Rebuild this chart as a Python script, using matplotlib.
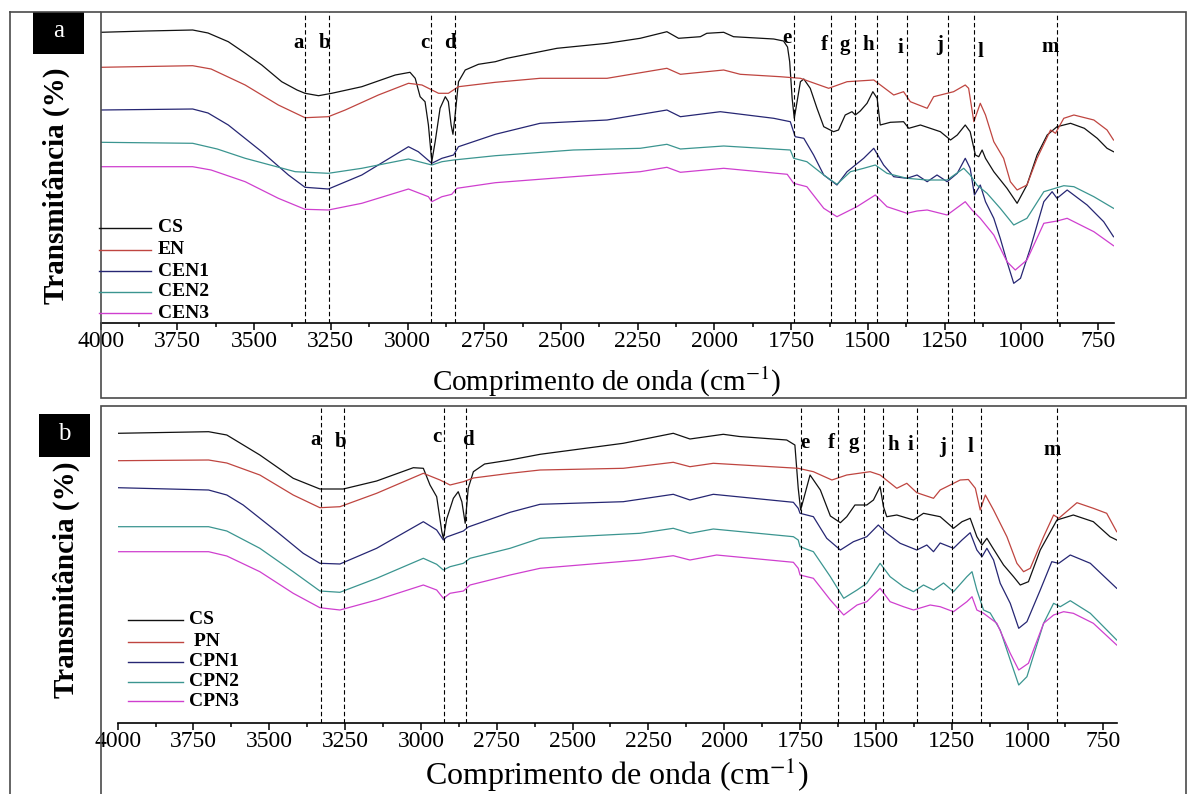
import matplotlib
matplotlib.use('Agg')
import matplotlib.pyplot as plt
from matplotlib.lines import Line2D
from matplotlib.patches import Rectangle
from matplotlib.ticker import MultipleLocator

W, H = 1191, 794

# ---- data: (wavenumber cm-1, transmittance, arbitrary offset units) ----
a_cs = [(4000, 290.7), (3850, 292), (3700, 293), (3650, 290), (3584, 281.3), (3530, 270), (3475, 258),
        (3410, 241.3), (3360, 233), (3334, 229.7), (3290, 227.3), (3247, 229.7), (3149, 236.3), (3040, 248),
        (2992, 250.7), (2975, 244.7), (2959, 226.3),
        (2943, 221.3), (2932, 198), (2921, 161.3), (2910, 181.3), (2894, 214.7), (2877, 226.3), (2867, 221.3),
        (2858, 198), (2852, 188.7), (2845, 208), (2834, 241.3), (2812, 253), (2769, 258.7), (2714, 261.3),
        (2676, 264.7), (2513, 274.7), (2350, 279.7), (2242, 284.7), (2155, 291.3), (2117, 284.7), (2046, 286.3),
        (2025, 289.7), (1970, 290.7), (1938, 286.3), (1807, 284), (1775, 282), (1762, 276), (1755, 261.3),
        (1747, 224.7), (1740, 204.7), (1720, 241.3), (1709, 244), (1688, 234.7), (1666, 214.7), (1644, 196.3),
        (1612, 191.3), (1596, 193), (1574, 208), (1552, 211.3), (1541, 208), (1525, 212), (1503, 219.7),
        (1484, 231.3), (1470, 224.7), (1460, 198), (1427, 200.7), (1384, 201.3), (1367, 194.7), (1329, 198),
        (1264, 191.3), (1231, 183), (1209, 188), (1183, 198), (1167, 191.3), (1150, 168), (1139, 166.3),
        (1128, 173), (1117, 164.7), (1090, 151.3), (1047, 134.7), (1014, 119.7), (982, 138), (949, 168),
        (916, 188), (884, 196.3), (840, 199.7), (795, 194.7), (753, 184.7), (721, 174.7), (700, 171.3)]
a_en = [(4000, 255.7), (3700, 257.3), (3640, 254), (3529, 238), (3421, 218), (3334, 205.3), (3258, 206.3),
        (3203, 213), (3095, 228), (2997, 239.7), (2953, 238), (2899, 229.7), (2867, 229.7), (2834, 236.3),
        (2714, 240.7), (2568, 244.7), (2350, 244.7), (2155, 254.7), (2111, 248.7), (1970, 253), (1916, 248.7),
        (1786, 246.3), (1720, 244.7), (1628, 234.7), (1568, 241.3), (1481, 243), (1416, 228), (1384, 231.3),
        (1362, 221.3), (1307, 214.7), (1286, 226.3), (1221, 231.3), (1183, 238), (1172, 234.7), (1155, 201.3),
        (1134, 219.7), (1117, 208), (1090, 181.3), (1058, 164.7), (1036, 141.3), (1014, 133), (982, 138),
        (949, 164.7), (905, 193), (889, 189.7), (862, 204.7), (829, 208), (764, 203), (721, 193), (700, 183)]
a_cen1 = [(4000, 213), (3700, 214), (3650, 210), (3584, 198), (3475, 171.3), (3388, 148), (3334, 135.7),
          (3258, 134), (3149, 148), (2997, 176.3), (2965, 171.3), (2921, 159.7), (2888, 164.7), (2850, 168),
          (2834, 176.3), (2714, 188.7), (2568, 199.7), (2350, 203), (2155, 213), (2111, 206.3), (1981, 211.3),
          (1807, 204.7), (1753, 201.3), (1737, 186.3), (1709, 184.7), (1677, 168), (1644, 148), (1601, 138),
          (1568, 151.3), (1514, 164.7), (1481, 174.7), (1449, 158), (1416, 146.3), (1373, 144.7), (1340, 148),
          (1307, 141.3), (1275, 148), (1242, 141.3), (1209, 149.7), (1183, 164.7), (1167, 154.7), (1153, 128),
          (1134, 138), (1117, 121.3), (1090, 104.7), (1069, 84.7), (1047, 61.3), (1025, 39.7), (1003, 44.7),
          (971, 74.7), (927, 121.3), (900, 131.3), (884, 124.7), (851, 133), (786, 118), (732, 101.3), (700, 86.3)]
a_cen2 = [(4000, 180.7), (3700, 179.7), (3620, 174), (3529, 164.7), (3366, 151.3), (3258, 149.7), (3149, 154.7),
          (2997, 164), (2921, 158), (2888, 161.3), (2850, 163), (2714, 167.3), (2460, 173), (2242, 174.7),
          (2155, 178.7), (2111, 174), (1970, 177), (1753, 173), (1742, 164.7), (1699, 161.3), (1644, 148),
          (1601, 138.7), (1557, 151.3), (1514, 154.7), (1476, 158), (1438, 149.7), (1373, 144.7), (1307, 143),
          (1242, 143), (1188, 154.7), (1167, 148), (1145, 138), (1112, 129.7), (1069, 114.7), (1025, 98),
          (982, 104.7), (927, 131.3), (862, 137.3), (829, 136.3), (764, 126.3), (700, 114.7)]
a_cen3 = [(4000, 156.3), (3700, 156.3), (3640, 153), (3529, 141.3), (3421, 124.7), (3334, 113.7), (3258, 113),
          (3149, 119.7), (2997, 134), (2932, 126.3), (2921, 121.3), (2888, 126.3), (2856, 128.7), (2839, 134.7),
          (2714, 140.3), (2460, 146.3), (2242, 151.3), (2155, 155.7), (2111, 150.7), (1970, 154.7), (1763, 148.7),
          (1742, 139.7), (1699, 136.3), (1644, 114.7), (1601, 106.3), (1536, 116.3), (1476, 128), (1438, 116.3),
          (1373, 109.7), (1340, 112), (1307, 113), (1242, 108), (1183, 121.3), (1161, 113), (1134, 104.7),
          (1090, 88), (1047, 61.3), (1020, 53), (982, 63), (927, 99.7), (884, 102), (851, 104.7), (764, 91.3),
          (700, 77.3)]

b_cs = [(4000, 289.7), (3700, 291.3), (3640, 288), (3531, 268), (3421, 244.7), (3333, 234), (3256, 234),
        (3146, 242), (3025, 255.3), (2992, 254.7), (2970, 238), (2948, 226.3), (2931, 191.3), (2926, 184.7),
        (2915, 204), (2893, 224.7), (2877, 231.3), (2865, 221.3), (2854, 199.7), (2844, 234.7), (2827, 251.3),
        (2790, 259), (2706, 263), (2607, 268.7), (2333, 279.7), (2168, 289.7), (2113, 284), (2003, 288.7),
        (1950, 286.5), (1794, 283), (1767, 278), (1756, 234.7), (1748, 213), (1717, 248), (1683, 233),
        (1650, 207), (1617, 200.3), (1596, 206.3), (1569, 218), (1530, 218), (1508, 223), (1486, 236.3),
        (1475, 216.3), (1464, 206.3), (1431, 208), (1376, 203), (1343, 209.7), (1288, 206.3), (1244, 194.7),
        (1216, 201.3), (1189, 204.7), (1167, 186.3), (1150, 178), (1134, 184.7), (1117, 176.3), (1079, 158),
        (1046, 146.3), (1024, 138), (997, 141.3), (958, 173), (903, 203), (849, 208), (783, 201.3),
        (728, 186.3), (706, 183)]
b_pn = [(4000, 262.3), (3700, 263), (3640, 260), (3531, 248), (3421, 228), (3333, 215.3), (3267, 216.3),
        (3146, 229.7), (2992, 249.7), (2937, 243), (2904, 238), (2860, 241.3), (2827, 245), (2706, 249.7),
        (2607, 253), (2333, 254.7), (2168, 260.7), (2113, 256.3), (2036, 259.7), (1756, 254.7), (1706, 251.3),
        (1645, 243), (1596, 248), (1519, 251.3), (1486, 248), (1431, 234.7), (1398, 239.7), (1365, 230.3),
        (1310, 224.7), (1288, 233), (1222, 243), (1195, 243.5), (1172, 234.7), (1156, 213), (1139, 228),
        (1112, 213), (1068, 186.3), (1035, 159.7), (1013, 151.3), (991, 154.7), (947, 186.3), (914, 208),
        (897, 204.7), (837, 220.3), (783, 214.7), (739, 209.7), (706, 191.3)]
b_cpn1 = [(4000, 235.3), (3700, 233), (3640, 228), (3586, 218), (3475, 191.3), (3388, 169.7), (3333, 159.7),
          (3267, 159), (3146, 174.7), (2992, 201.3), (2948, 193), (2926, 183), (2915, 186), (2860, 192),
          (2844, 196), (2706, 210.7), (2607, 218.7), (2333, 221.3), (2168, 228.7), (2113, 223), (2036, 228.7),
          (1772, 220.7), (1756, 214.7), (1750, 209.7), (1706, 206.3), (1662, 184.7), (1617, 173), (1574, 181.3),
          (1530, 186.3), (1492, 198), (1464, 189.7), (1420, 179.7), (1365, 173), (1332, 178), (1310, 171.3),
          (1288, 180), (1244, 174.7), (1216, 183), (1189, 190.3), (1167, 173), (1150, 166.3), (1134, 174.7),
          (1112, 163), (1090, 139.7), (1057, 119.7), (1029, 94.7), (1002, 101.3), (958, 133), (920, 161.3),
          (897, 159.7), (859, 168), (793, 159.7), (706, 134.7)]
b_cpn2 = [(4000, 196.3), (3700, 196.3), (3640, 192), (3531, 174.7), (3421, 151.3), (3333, 132), (3267, 130.7),
          (3146, 144.7), (2992, 164.7), (2948, 158.7), (2926, 153), (2904, 156.3), (2860, 159.7), (2838, 164.7),
          (2706, 174.7), (2607, 184.7), (2278, 189.7), (2168, 194.7), (2113, 189.7), (2036, 194), (1772, 186.3),
          (1756, 183), (1750, 176.3), (1706, 171.3), (1650, 146.3), (1606, 124.7), (1562, 133), (1530, 139.7),
          (1486, 159.7), (1453, 146.3), (1409, 136.3), (1376, 131.3), (1343, 138), (1310, 133), (1277, 140),
          (1244, 131.3), (1200, 146.3), (1183, 151.3), (1167, 133), (1145, 113), (1123, 110), (1090, 93),
          (1057, 63), (1029, 38), (1002, 46.3), (947, 99.7), (914, 119.7), (892, 116.3), (859, 122.3),
          (793, 109.7), (706, 83)]
b_cpn3 = [(4000, 171.3), (3700, 171.3), (3640, 167), (3531, 151.3), (3421, 129.7), (3333, 115.3), (3267, 113),
          (3146, 123), (2992, 138), (2948, 133), (2926, 124.7), (2904, 129.7), (2860, 132), (2838, 138),
          (2706, 148), (2607, 154.7), (2278, 163), (2168, 167.3), (2113, 163), (2025, 168), (1772, 160.7),
          (1756, 154.7), (1750, 148), (1706, 144.7), (1650, 123), (1606, 108), (1562, 118), (1530, 121.3),
          (1486, 134.7), (1453, 121.3), (1409, 116.3), (1376, 113), (1321, 118), (1288, 116.3), (1244, 111.3),
          (1200, 121.3), (1183, 126.3), (1167, 113), (1145, 109.7), (1101, 99.7), (1057, 69.7), (1029, 53),
          (997, 59.7), (947, 99.7), (914, 108), (881, 111.3), (849, 109.7), (783, 99.7), (706, 78)]

names_a = ['CS', 'EN', 'CEN1', 'CEN2', 'CEN3']
names_b = ['CS', ' PN', 'CPN1', 'CPN2', 'CPN3']
colors = ['#111111', '#bf4540', '#262673', '#3b9590', '#cf3fcf']

band_letters = ['a', 'b', 'c', 'd', 'e', 'f', 'g', 'h', 'i', 'j', 'l', 'm']
bands_a = [3334, 3255, 2922, 2847, 1740, 1620, 1542, 1470, 1373, 1240, 1155, 884]
bands_b = [3328, 3252, 2924, 2851, 1747, 1624, 1539, 1477, 1363, 1248, 1153, 902]
# letter positions (layout), in wavenumber / height units of each panel
lab_a = [(3355, 280), (3272, 280), (2945, 280), (2862, 280), (1763, 285), (1641, 278), (1576, 278),
         (1498, 278), (1393, 275), (1265, 278), (1135, 271), (907, 276)]
lab_b = [(3347, 283), (3264, 281), (2948, 286), (2846, 283), (1734, 280), (1646, 280), (1574, 280),
         (1443, 278), (1387, 278), (1279, 276), (1189, 276), (918, 273)]

plt.rcParams['font.family'] = ['Liberation Serif', 'DejaVu Serif']
plt.rcParams['mathtext.fontset'] = 'stix'

fig = plt.figure(figsize=(W / 100, H / 100), dpi=100)


def fr(x, y):
    return x / W, 1 - y / H


def box(x0, y0, x1, y1, **kw):
    fig.add_artist(Rectangle(fr(x0, y1), (x1 - x0) / W, (y1 - y0) / H,
                             transform=fig.transFigure, fill=False, **kw))


def panel(left, right, top, bottom, xmax, ymax, curves, bands, labs):
    x0, y0 = fr(left, bottom)
    ax = fig.add_axes([x0, y0, (right - left) / W, (bottom - top) / H])
    for pts, c in zip(curves, colors):
        ax.plot([p[0] for p in pts], [p[1] for p in pts], color=c, lw=0.9)
    for wn in bands:
        ax.axvline(wn, ymin=0, ymax=1, color='black', lw=0.8, ls=(0, (4, 2.5)))
    for t, (wx, wy) in zip(band_letters, labs):
        ax.text(wx, wy, t, ha='center', va='center', fontsize=15, fontweight='bold')
    ax.set_xlim(4000, xmax)
    ax.set_ylim(0, ymax)
    for s in ['left', 'right', 'top']:
        ax.spines[s].set_visible(False)
    ax.spines['bottom'].set_linewidth(1.2)
    ax.set_yticks([])
    ax.xaxis.set_major_locator(MultipleLocator(250))
    ax.xaxis.set_minor_locator(MultipleLocator(125))
    ax.tick_params(axis='x', which='major', direction='out', length=5, width=1.1,
                   labelsize=17, pad=1)
    ax.tick_params(axis='x', which='minor', direction='out', length=3, width=1.1)
    ax.patch.set_alpha(0)
    return ax


ax_a = panel(100.6, 1113.5, 12, 323, 700, 311, [a_cs, a_en, a_cen1, a_cen2, a_cen3], bands_a, lab_a)
ax_b = panel(117.6, 1117.0, 406, 723, 705, 317, [b_cs, b_pn, b_cpn1, b_cpn2, b_cpn3], bands_b, lab_b)

# frames
edge = '#4a4a4a'
fig.add_artist(Line2D([10 / W, 10 / W], [1 - 12 / H, 0], transform=fig.transFigure, color=edge, lw=1.2))
fig.add_artist(Line2D([10 / W, 100 / W], [1 - 12 / H, 1 - 12 / H], transform=fig.transFigure, color=edge, lw=1.2))
box(100.6, 12, 1185.5, 398, edgecolor=edge, lw=1.2)
box(100.6, 406, 1185.5, 796, edgecolor=edge, lw=1.2)

# panel tags
for (x0, y0, x1, y1), t in [((33, 12, 84, 54), 'a'), ((39, 414, 90, 457), 'b')]:
    fig.add_artist(Rectangle(fr(x0, y1), (x1 - x0) / W, (y1 - y0) / H, transform=fig.transFigure,
                             facecolor='black', edgecolor='none'))
    fig.text(*fr((x0 + x1) / 2, (y0 + y1) / 2 - 2), t, color='white', fontsize=18,
             ha='center', va='center')

# axis titles
fig.text(*fr(607, 391), 'Comprimento de onda (cm$^{-1}$)', fontsize=21, ha='center', va='baseline')
fig.text(*fr(617, 785), 'Comprimento de onda (cm$^{-1}$)', fontsize=23, ha='center', va='baseline')
fig.text(*fr(56, 186), 'Transmitância (%)', fontsize=21, fontweight='bold', rotation=90,
         ha='center', va='center')
fig.text(*fr(66, 580), 'Transmitância (%)', fontsize=21, fontweight='bold', rotation=90,
         ha='center', va='center')


# legends drawn by hand, as in the figure
def legend(x0, x1, xt, ys, names):
    for y, n, c in zip(ys, names, colors):
        fig.add_artist(Line2D([x0 / W, x1 / W], [1 - y / H, 1 - y / H], transform=fig.transFigure,
                              color=c, lw=1.0))
        fig.text(*fr(xt, y), n, fontsize=14, fontweight='bold', ha='left', va='center')


legend(99, 151, 158, [228, 250, 271, 292, 313], names_a)
legend(128, 183, 189, [620, 642, 662, 682, 701], names_b)

fig.savefig('out.png', dpi=100)
